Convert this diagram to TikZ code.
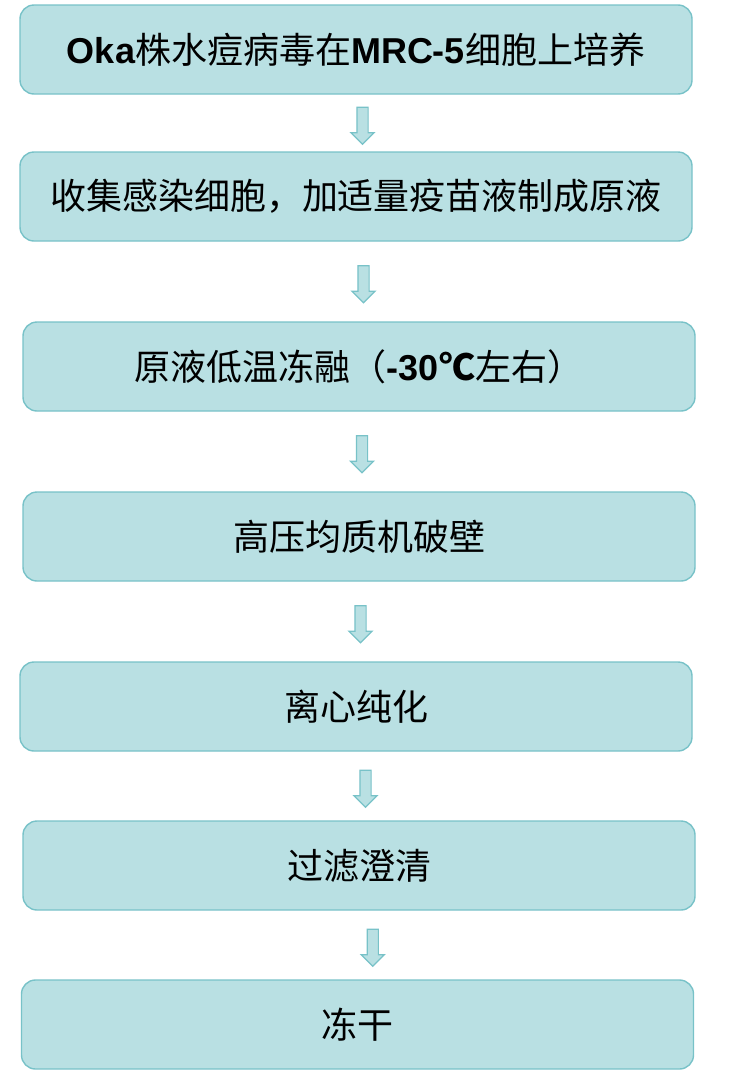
\documentclass[tikz,border=0pt]{standalone}
\usepackage{fontspec}
\setmainfont{Liberation Sans}
\newfontfamily\cjk{Noto Sans CJK SC}
\usepackage{tikz}
\usetikzlibrary{calc}
\usetikzlibrary{shapes.arrows}
\definecolor{boxfill}{HTML}{B9E0E3}
\definecolor{boxline}{HTML}{78C2C8}
\newcommand{\latbf}[1]{{\rmfamily\bfseries #1}}

\begin{document}
\begin{tikzpicture}[x=1pt,y=-1pt,
  stage/.style={draw=boxline,fill=boxfill,line width=1.4pt,rounded corners=14pt,
    minimum width=672pt,minimum height=89pt,inner sep=0pt,
    font=\fontsize{36}{40}\selectfont\cjk},
  flow/.style={single arrow,draw=boxline,fill=boxfill,line width=1.2pt,
    minimum height=37pt,inner xsep=0pt,inner ysep=5pt,
    single arrow head extend=6pt,rotate=-90}]
\useasboundingbox (0,0) rectangle (746,1074);

\node[stage] (culture) at (356,49.5) {\latbf{Oka}株水痘病毒在\latbf{MRC-5}细胞上培养};
\node[stage] (harvest) at (356,196.5) {收集感染细胞，加适量疫苗液制成原液};
\node[stage] (thaw) at (359,366.5) {原液低温冻融（\latbf{-30}{\bfseries ℃}左右）};
\node[stage] (breakup) at (359,536.5) {高压均质机破壁};
\node[stage] (centrifuge) at (356,706.5) {离心纯化};
\node[stage] (filter) at (359,865.5) {过滤澄清};
\node[stage] (freezedry) at (357.5,1024.5) {冻干};

\node[flow] (a1) at ($(culture.south)!0.5!(harvest.north)+(6.5,0)$) {};
\node[flow] (a2) at ($(harvest.south)!0.5!(thaw.north)+(6,0)$) {};
\node[flow] (a3) at ($(thaw.south)!0.5!(breakup.north)+(3,0)$) {};
\node[flow] (a4) at ($(breakup.south)!0.5!(centrifuge.north)+(3,0)$) {};
\node[flow] (a5) at ($(centrifuge.south)!0.5!(filter.north)+(8,0)$) {};
\node[flow] (a6) at ($(filter.south)!0.5!(freezedry.north)+(14.5,0)$) {};

\end{tikzpicture}
\end{document}
